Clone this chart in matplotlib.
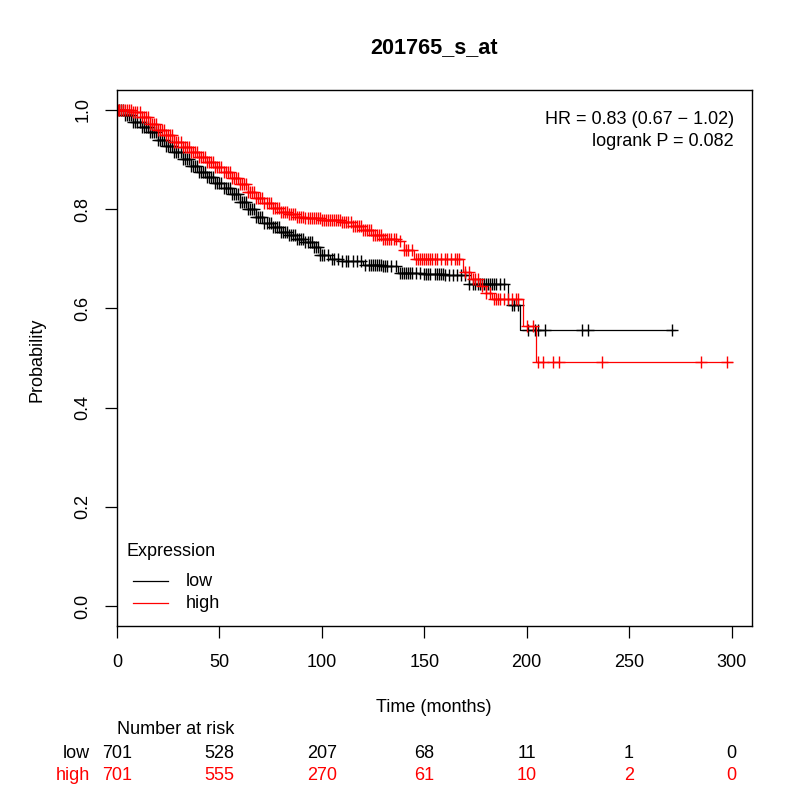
import numpy as np
import matplotlib
matplotlib.use("Agg")
import matplotlib.pyplot as plt
import matplotlib.transforms as mtransforms
from matplotlib.lines import Line2D

plt.rcParams['font.family'] = ['Liberation Sans', 'DejaVu Sans']

# Kaplan-Meier step knots
low_times = [0, 4, 8, 12, 16, 20, 24, 28, 32, 36, 40, 44, 48, 52, 56, 60, 64, 68,
             72, 76, 80, 84, 88, 92, 96, 99, 104, 110, 120, 130, 137, 150, 160,
             172, 191, 196.6, 272.5]
low_surv = [1.0, 0.99, 0.975, 0.965, 0.955, 0.94, 0.928, 0.915, 0.9, 0.887, 0.874,
            0.864, 0.853, 0.842, 0.83, 0.815, 0.80, 0.785, 0.773, 0.763, 0.754,
            0.747, 0.74, 0.733, 0.724, 0.708, 0.70, 0.695, 0.688, 0.686, 0.672,
            0.669, 0.667, 0.65, 0.606, 0.556, 0.556]

high_times = [0, 8, 12, 16, 20, 24, 28, 32, 36, 40, 44, 48, 52, 56, 60, 64, 68, 72,
              76, 80, 84, 88, 92, 100, 110, 115, 120, 125, 130, 137, 140, 145, 169,
              173, 177, 180, 183, 198, 204.5, 300]
high_surv = [1.0, 0.995, 0.985, 0.972, 0.96, 0.95, 0.935, 0.925, 0.915, 0.905,
             0.895, 0.885, 0.875, 0.862, 0.85, 0.835, 0.822, 0.812, 0.803, 0.795,
             0.79, 0.785, 0.782, 0.778, 0.775, 0.765, 0.758, 0.748, 0.74, 0.735,
             0.718, 0.70, 0.673, 0.659, 0.645, 0.63, 0.619, 0.564, 0.491, 0.491]

# censoring times (tick marks)
low_censor = [1, 2, 3, 4, 5, 6, 7, 8, 9, 10, 11, 12, 13, 14, 15, 16, 17, 18, 19, 20,
              21, 22, 23, 24, 25, 26, 27, 28, 29, 30, 31, 32, 33, 34, 35, 36, 37,
              38, 39, 40, 41, 42, 43, 44, 45, 46, 47, 48, 49, 50, 51, 52, 53, 54,
              55, 56, 57, 58, 59, 60, 61, 62, 63, 64, 65, 66, 67, 68, 69, 70, 71,
              72, 73, 74, 75, 76, 77, 78, 79, 80, 81, 82, 83, 84, 85, 86, 87, 88,
              89, 90, 91, 92, 93, 94, 95, 96, 97, 98, 99, 100, 101, 103, 105, 106,
              108, 110, 112, 113, 115, 117, 119, 121, 123, 124, 125, 126, 127, 128,
              129, 130, 131, 132, 134, 136, 138, 139, 140, 141, 142, 143, 144, 146,
              148, 150, 151, 152, 153, 155, 156, 157, 158, 159, 160, 162, 164, 166,
              168, 170, 172, 174, 175, 176, 177, 178, 179, 180, 181, 182, 183, 184,
              185, 187, 189, 193, 194, 196, 200.5, 204, 205.4, 209, 227, 230, 271]
high_censor = [0.5, 1, 2, 3, 4, 5, 6, 7, 8, 9, 10, 11, 12, 13, 14, 15, 16, 17, 18,
               19, 20, 21, 22, 23, 24, 25, 26, 27, 28, 29, 30, 31, 32, 33, 34, 35,
               36, 37, 38, 39, 40, 41, 42, 43, 44, 45, 46, 47, 48, 49, 50, 51, 52,
               53, 54, 55, 56, 57, 58, 59, 60, 61, 62, 63, 64, 65, 66, 67, 68, 69,
               70, 71, 72, 73, 74, 75, 76, 77, 78, 79, 80, 81, 82, 83, 84, 85, 86,
               87, 88, 89, 90, 91, 92, 93, 94, 95, 96, 97, 98, 99, 100, 101, 102,
               103, 104, 105, 106, 107, 108, 109, 110, 111, 112, 113, 114, 115, 116,
               117, 118, 119, 120, 121, 122, 123, 124, 125, 126, 127, 128, 129, 130,
               131, 132, 133, 134, 135, 136, 138, 140, 141, 142, 144, 146, 147, 148,
               149, 150, 151, 152, 153, 154, 155, 156, 158, 160, 161, 163, 165, 166,
               167, 170, 172, 174, 175, 176, 178, 180, 182, 184, 185, 186, 187, 189,
               191, 193, 195, 196, 200, 203, 205.5, 208, 213, 215.6, 237, 285, 298]

risk_times = [0, 50, 100, 150, 200, 250, 300]
risk_low = [701, 528, 207, 68, 11, 1, 0]
risk_high = [701, 555, 270, 61, 10, 2, 0]

RED = "#ff0000"
groups = [
    ("low", low_times, low_surv, low_censor, risk_low, "black"),
    ("high", high_times, high_surv, high_censor, risk_high, RED),
]
FS = 13


def surv_at(times, surv, t):
    idx = np.searchsorted(np.asarray(times), t, side="right") - 1
    return np.asarray(surv)[np.clip(idx, 0, len(surv) - 1)]


def px(x, y):
    """pixel position (from top-left) -> figure fraction"""
    return x / 800, 1 - y / 800


fig = plt.figure(figsize=(8, 8), dpi=100)
ax = fig.add_axes([117 / 800, 1 - 626 / 800, 635 / 800, 536 / 800])

for name, times, surv, cens, _, col in groups:
    ax.plot(times, surv, drawstyle="steps-post", color=col, lw=0.9)
    ax.plot(cens, surv_at(times, surv, cens), ls="none", marker="+",
            markersize=8.4, mew=1.0, color=col)

ax.set_xlim(0, 310)
ax.set_ylim(-0.04, 1.04)
ax.set_xticks(risk_times)
ax.set_yticks([0.0, 0.2, 0.4, 0.6, 0.8, 1.0])
ax.set_yticklabels(["0.0", "0.2", "0.4", "0.6", "0.8", "1.0"], rotation=90, va="center")
ax.tick_params(axis="both", labelsize=FS, length=8.4, width=0.9)
ax.tick_params(axis="x", pad=12)
ax.tick_params(axis="y", pad=10)
for sp in ax.spines.values():
    sp.set_linewidth(1.0)

fig.text(*px(37, 360), "Probability", rotation=90, ha="center", va="center",
         fontsize=FS)
fig.text(*px(434, 48), "201765_s_at", ha="center", va="center",
         fontsize=15.6, fontweight="bold")
fig.text(*px(734, 120), "HR = 0.83 (0.67 \u2212 1.02)", ha="right", va="center",
         fontsize=FS)
fig.text(*px(734, 142), "logrank P = 0.082", ha="right", va="center", fontsize=FS)

# legend
fig.text(*px(127, 552), "Expression", ha="left", va="center", fontsize=FS)
for (name, _, _, _, _, col), y in zip(groups, [581, 603]):
    x0, yy = px(133, y)
    x1, _ = px(168, y)
    fig.add_artist(Line2D([x0, x1], [yy, yy], color=col, lw=0.9,
                          transform=fig.transFigure))
    fig.text(*px(186, y), name, ha="left", va="center", fontsize=FS)

fig.text(*px(434, 707), "Time (months)", ha="center", va="center", fontsize=FS)

# number at risk table
trans = mtransforms.blended_transform_factory(ax.transData, fig.transFigure)
fig.text(*px(117, 730), "Number at risk", ha="left", va="center", fontsize=FS)
for (name, _, _, _, risk, col), y in zip(groups, [753, 776]):
    fig.text(*px(90, y), name, ha="right", va="center", fontsize=FS, color=col)
    for t, n in zip(risk_times, risk):
        ax.text(t, 1 - y / 800, str(n), transform=trans, ha="center", va="center",
                fontsize=FS, color=col, clip_on=False)

fig.savefig("out.png", dpi=100)
